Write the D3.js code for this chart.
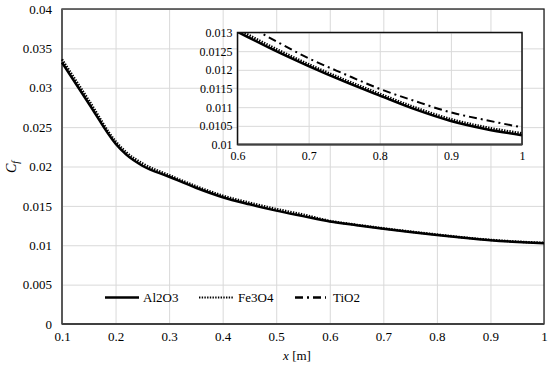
<!DOCTYPE html>
<html>
<head>
<meta charset="utf-8">
<script src="https://cdn.jsdelivr.net/npm/d3@7"></script>
<style>
  body { margin: 0; background: #fff; }
  svg { display: block; }
  svg text { font-family: "Times New Roman", Times, "Liberation Serif", "DejaVu Serif", "Noto Serif", serif; }
</style>
</head>
<body>
<svg width="550" height="366"></svg>
<script>
const width = 550;
const height = 366;
const serif = "'Times New Roman', Times, 'Liberation Serif', 'DejaVu Serif', 'Noto Serif', serif";

// data
const xs = [0.1, 0.15, 0.2, 0.22, 0.25, 0.3, 0.35, 0.4, 0.45, 0.5, 0.55, 0.6, 0.65, 0.7, 0.75, 0.8, 0.85, 0.9, 0.95, 1.0];
const al2o3 = [0.0332, 0.0280, 0.0229, 0.0215, 0.0201, 0.0187, 0.0173, 0.0161, 0.0152, 0.0144, 0.0137, 0.01302, 0.01254, 0.01210, 0.01169, 0.01131, 0.01094, 0.01063, 0.01041, 0.01025];
const fe3o4 = [0.0336, 0.0284, 0.0232, 0.0218, 0.0204, 0.0189, 0.0175, 0.0163, 0.0154, 0.0146, 0.0139, 0.01309, 0.01260, 0.01215, 0.01174, 0.01136, 0.01099, 0.01068, 0.01046, 0.01030];
const insetXs = [0.6, 0.65, 0.7, 0.75, 0.8, 0.85, 0.9, 0.95, 1.0];
const tio2 = [0.01335, 0.01281, 0.01231, 0.01189, 0.01149, 0.01116, 0.01086, 0.01065, 0.01046];

const xTicks = [0.1, 0.2, 0.3, 0.4, 0.5, 0.6, 0.7, 0.8, 0.9, 1];
const yTicks = [0, 0.005, 0.01, 0.015, 0.02, 0.025, 0.03, 0.035, 0.04];
const insetXTicks = [0.6, 0.7, 0.8, 0.9, 1];
const insetYTicks = [0.01, 0.0105, 0.011, 0.0115, 0.012, 0.0125, 0.013];

const series = [
  { name: "Al2O3", x: xs, y: al2o3, dash: null, width: 2.5 },
  { name: "Fe3O4", x: xs, y: fe3o4, dash: "1.4,1.3", width: 2.5 },
  { name: "TiO2", x: insetXs, y: tio2, dash: "8,4,2,4", width: 2 }
];

const svg = d3.select("svg");
const fmt = (d) => String(+d.toFixed(4));

const margin = { left: 62, right: 6, top: 9, bottom: 42 };
const x = d3.scaleLinear().domain([0.1, 1]).range([margin.left, width - margin.right]);
const y = d3.scaleLinear().domain([0, 0.04]).range([height - margin.bottom, margin.top]);

const styleAxis = (g, size) => {
  g.select(".domain").remove();
  g.attr("font-family", serif);
  g.selectAll(".tick line").attr("stroke", "#d9d9d9").attr("stroke-width", 1);
  g.selectAll(".tick text").attr("fill", "#000").attr("font-family", serif).style("font-size", size + "px");
};

// grid
svg.append("g").attr("transform", `translate(0,${height - margin.bottom})`)
  .call(d3.axisBottom(x).tickValues(xTicks).tickSize(-(height - margin.bottom - margin.top)).tickFormat(fmt).tickPadding(8))
  .call(g => styleAxis(g, 13));

svg.append("g").attr("transform", `translate(${margin.left},0)`)
  .call(d3.axisLeft(y).tickValues(yTicks).tickSize(-(width - margin.left - margin.right)).tickFormat(fmt).tickPadding(10))
  .call(g => styleAxis(g, 13));

// plot border
svg.append("rect")
  .attr("x", x(0.1)).attr("y", y(0.04))
  .attr("width", x(1) - x(0.1)).attr("height", y(0) - y(0.04))
  .attr("fill", "none").attr("stroke", "#222").attr("stroke-width", 1.3);
svg.append("line").attr("x1", x(0.1)).attr("x2", x(0.1)).attr("y1", y(0.04)).attr("y2", y(0))
  .attr("stroke", "#595959").attr("stroke-width", 2);
svg.append("line").attr("x1", x(0.1)).attr("x2", x(1)).attr("y1", y(0)).attr("y2", y(0))
  .attr("stroke", "#404040").attr("stroke-width", 2);

// main curves (TiO2 lies under the others in the main plot)
const mainLine = d3.line().x(d => x(d[0])).y(d => y(d[1])).curve(d3.curveMonotoneX);
series.slice(0, 2).forEach(s => {
  svg.append("path")
    .datum(s.x.map((v, i) => [v, s.y[i]]))
    .attr("fill", "none").attr("stroke", "#000")
    .attr("stroke-width", s.width)
    .attr("stroke-dasharray", s.dash)
    .attr("d", mainLine);
});

// legend
const legend = [
  { s: series[0], x1: 105, x2: 139, tx: 143 },
  { s: series[1], x1: 199, x2: 234, tx: 238 },
  { s: series[2], x1: 295, x2: 326, tx: 333 }
];
const ly = 297.5;
legend.forEach(l => {
  svg.append("line").attr("x1", l.x1).attr("x2", l.x2).attr("y1", ly).attr("y2", ly)
    .attr("stroke", "#000").attr("stroke-width", l.s.name === "Fe3O4" ? 1.8 : 2.5)
    .attr("stroke-dasharray", l.s.dash);
  svg.append("text").attr("x", l.tx).attr("y", ly + 4.5)
    .attr("font-family", serif).style("font-size", "13px").text(l.s.name);
});

// axis titles
const xt = svg.append("text").attr("x", 297).attr("y", 360).attr("text-anchor", "middle")
  .attr("font-family", serif).style("font-size", "13px");
xt.append("tspan").style("font-style", "italic").text("x");
xt.append("tspan").text(" [m]");

const yt = svg.append("text").attr("transform", "translate(16,167) rotate(-90)").attr("text-anchor", "middle")
  .attr("font-family", serif).style("font-size", "14px");
yt.append("tspan").style("font-style", "italic").text("C");
yt.append("tspan").style("font-style", "italic").style("font-size", "10px").attr("dy", 3).text("f");

// inset
const ix = d3.scaleLinear().domain([0.6, 1]).range([237.5, 522]);
const iy = d3.scaleLinear().domain([0.01, 0.013]).range([144.5, 32.5]);

svg.append("rect")
  .attr("x", ix(0.6)).attr("y", iy(0.013))
  .attr("width", ix(1) - ix(0.6)).attr("height", iy(0.01) - iy(0.013))
  .attr("fill", "#fff");

svg.append("g").attr("transform", `translate(0,${iy(0.01)})`)
  .call(d3.axisBottom(ix).tickValues(insetXTicks).tickSize(-(iy(0.01) - iy(0.013))).tickFormat(fmt).tickPadding(7))
  .call(g => styleAxis(g, 12));

svg.append("g").attr("transform", `translate(${ix(0.6)},0)`)
  .call(d3.axisLeft(iy).tickValues(insetYTicks).tickSize(-(ix(1) - ix(0.6))).tickFormat(fmt).tickPadding(5))
  .call(g => styleAxis(g, 12));

svg.append("clipPath").attr("id", "insetClip").append("rect")
  .attr("x", ix(0.6)).attr("y", iy(0.013))
  .attr("width", ix(1) - ix(0.6)).attr("height", iy(0.01) - iy(0.013));

const insetLine = d3.line().x(d => ix(d[0])).y(d => iy(d[1])).curve(d3.curveMonotoneX);
series.forEach(s => {
  svg.append("path")
    .datum(s.x.map((v, i) => [v, s.y[i]]).filter(d => d[0] >= 0.6))
    .attr("clip-path", "url(#insetClip)")
    .attr("fill", "none").attr("stroke", "#000")
    .attr("stroke-width", s.width)
    .attr("stroke-dasharray", s.dash)
    .attr("d", insetLine);
});

svg.append("rect")
  .attr("x", ix(0.6)).attr("y", iy(0.013))
  .attr("width", ix(1) - ix(0.6)).attr("height", iy(0.01) - iy(0.013))
  .attr("fill", "none").attr("stroke", "#111").attr("stroke-width", 1.5);
svg.append("line").attr("x1", ix(0.6)).attr("x2", ix(1)).attr("y1", iy(0.01)).attr("y2", iy(0.01))
  .attr("stroke", "#404040").attr("stroke-width", 2);
</script>
</body>
</html>
